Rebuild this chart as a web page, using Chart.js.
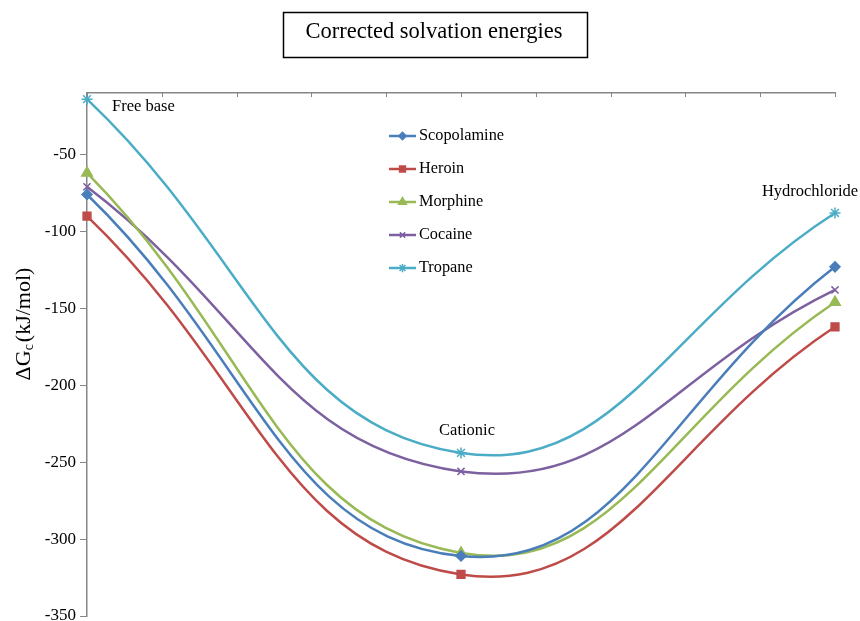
<!DOCTYPE html>
<html>
<head>
<meta charset="utf-8">
<style>
  html, body { margin: 0; padding: 0; background: #fff; overflow: hidden; }
  #wrap { position: absolute; left: 0; top: 0; width: 860px; height: 640px; }
</style>
<script src="https://cdn.jsdelivr.net/npm/chart.js@4.4.0/dist/chart.umd.min.js"></script>
</head>
<body>
<div id="wrap"><canvas id="chart" width="860" height="640"></canvas></div>
<script>
// data
const stages = ['Free base', 'Cationic', 'Hydrochloride'];
const stageX = [0, 5, 10];
const scopolamine = [-76, -311, -123];
const heroin = [-90, -323, -162];
const morphine = [-62, -309, -146];
const cocaine = [-71, -256, -138];
const tropane = [-14, -244, -88];
const yTicks = [-350, -300, -250, -200, -150, -100, -50];

const SERIF = '"Liberation Serif", "Times New Roman", serif';
const AXIS = '#868686';

function pts(vals) {
  return vals.map((v, i) => ({ x: stageX[i], y: v }));
}

function series(label, vals, color, style, radius) {
  return {
    label: label,
    data: pts(vals),
    borderColor: color,
    backgroundColor: color,
    borderWidth: 2.5,
    pointStyle: style,
    pointRadius: radius,
    pointBorderWidth: 1.5,
    pointBorderColor: color,
    tension: 0.45,
    clip: false
  };
}

const datasets = [
  series('Scopolamine', scopolamine, '#4a7ebb', 'rectRot', 5),
  series('Heroin', heroin, '#be4b48', 'rect', 5.5),
  series('Morphine', morphine, '#98b954', 'triangle', 6),
  series('Cocaine', cocaine, '#7d60a0', 'crossRot', 5),
  series('Tropane', tropane, '#4bacc6', 'star', 5.5)
];

const extras = {
  id: 'extras',
  afterDraw(chart) {
    const ctx = chart.ctx;
    const xs = chart.scales.x;
    const area = chart.chartArea;
    ctx.save();

    // title box
    ctx.strokeStyle = '#000';
    ctx.lineWidth = 1.5;
    ctx.strokeRect(283.5, 12.5, 304, 45);
    ctx.fillStyle = '#000';
    ctx.font = '22.5px ' + SERIF;
    ctx.textAlign = 'center';
    ctx.textBaseline = 'middle';
    ctx.fillText('Corrected solvation energies', 434, 32);

    // inward tick marks on the top axis
    ctx.strokeStyle = AXIS;
    ctx.lineWidth = 1;
    xs.ticks.forEach(t => {
      const px = Math.round(xs.getPixelForValue(t.value)) + 0.5;
      ctx.beginPath();
      ctx.moveTo(px, area.top);
      ctx.lineTo(px, area.top + 4);
      ctx.stroke();
    });

    // y axis title with subscript
    ctx.save();
    ctx.translate(24, 324);
    ctx.rotate(-Math.PI / 2);
    ctx.fillStyle = '#000';
    ctx.textAlign = 'left';
    ctx.textBaseline = 'middle';
    const big = '22px ' + SERIF, small = '14px ' + SERIF;
    ctx.font = big;
    const w1 = ctx.measureText('\u0394G').width;
    const w3 = ctx.measureText('(kJ/mol)').width;
    ctx.font = small;
    const w2 = ctx.measureText('c').width + 2;
    let x0 = -(w1 + w2 + w3) / 2;
    ctx.font = big;
    ctx.fillText('\u0394G', x0, 0);
    ctx.font = small;
    ctx.fillText('c', x0 + w1, 5);
    ctx.font = big;
    ctx.fillText('(kJ/mol)', x0 + w1 + w2, 0);
    ctx.restore();

    // stage labels next to the Tropane points
    const tp = chart.getDatasetMeta(4).data;
    ctx.fillStyle = '#000';
    ctx.font = '16.5px ' + SERIF;
    ctx.textBaseline = 'middle';
    ctx.textAlign = 'left';
    ctx.fillText(stages[0], tp[0].x + 25, tp[0].y + 8);
    ctx.textAlign = 'center';
    ctx.fillText(stages[1], tp[1].x + 6, tp[1].y - 22);
    ctx.fillText(stages[2], tp[2].x - 25, tp[2].y - 21);

    // legend inside the plot
    const lx = 389, ly = 136, gap = 33;
    chart.data.datasets.forEach((ds, i) => {
      const y = ly + i * gap;
      ctx.strokeStyle = ds.borderColor;
      ctx.lineWidth = 2.5;
      ctx.beginPath();
      ctx.moveTo(lx, y);
      ctx.lineTo(lx + 27, y);
      ctx.stroke();
      ctx.fillStyle = ds.backgroundColor;
      ctx.lineWidth = 1.5;
      Chart.helpers.drawPoint(ctx, {
        pointStyle: ds.pointStyle,
        radius: ds.pointRadius * 0.75,
        rotation: 0,
        borderWidth: 1.5
      }, lx + 13.5, y);
      ctx.fillStyle = '#000';
      ctx.font = '16.3px ' + SERIF;
      ctx.textAlign = 'left';
      ctx.textBaseline = 'middle';
      ctx.fillText(ds.label, lx + 30, y);
    });

    ctx.restore();
  }
};

new Chart(document.getElementById('chart'), {
  type: 'line',
  data: { datasets: datasets },
  options: {
    responsive: false,
    animation: false,
    layout: { padding: { left: 0, right: 25, top: 0, bottom: 24 } },
    plugins: {
      legend: { display: false },
      tooltip: { enabled: false },
      title: { display: false }
    },
    scales: {
      x: {
        type: 'linear',
        position: 'top',
        min: 0,
        max: 10,
        ticks: { stepSize: 1, display: false },
        grid: { drawOnChartArea: false, drawTicks: false },
        border: { color: AXIS, width: 1.5 },
        afterFit: s => { s.height = 93; }
      },
      y: {
        min: -350,
        max: -10,
        afterBuildTicks: s => { s.ticks = yTicks.map(v => ({ value: v })); },
        afterFit: s => { s.width = 87; },
        ticks: {
          color: '#000',
          font: { family: SERIF, size: 17 },
          padding: 4
        },
        grid: { drawOnChartArea: false, tickLength: 7, color: AXIS, lineWidth: 1 },
        border: { color: AXIS, width: 1.5 }
      }
    }
  },
  plugins: [extras]
});
</script>
</body>
</html>
